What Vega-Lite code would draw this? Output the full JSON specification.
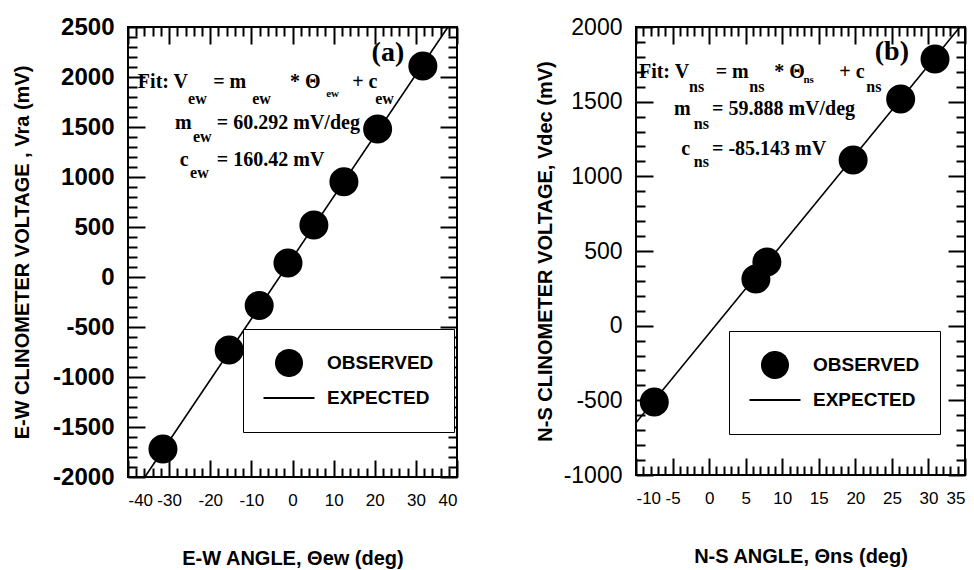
{
  "$schema": "https://vega.github.io/schema/vega-lite/v6.json",
  "padding": {"left": 11, "top": 14, "right": 0, "bottom": 0},
  "background": "white",
  "spacing": 75,
  "resolve": {"scale": {"shape": "independent"}, "legend": {"shape": "independent"}},
  "hconcat": [
    {
      "width": 329,
      "height": 450,
      "layer": [
        {
          "data": {"values": [
            {"theta": -31.5, "v": -1720, "series": "OBSERVED"},
            {"theta": -15.4, "v": -730, "series": "OBSERVED"},
            {"theta": -8.1, "v": -285, "series": "OBSERVED"},
            {"theta": -1.1, "v": 140, "series": "OBSERVED"},
            {"theta": 5.2, "v": 520, "series": "OBSERVED"},
            {"theta": 12.5, "v": 953, "series": "OBSERVED"},
            {"theta": 20.7, "v": 1480, "series": "OBSERVED"},
            {"theta": 31.7, "v": 2110, "series": "OBSERVED"}
          ]},
          "mark": {"type": "point", "filled": true, "color": "black", "stroke": "black", "size": 2410, "opacity": 1},
          "encoding": {
            "x": {"field": "theta", "type": "quantitative", "scale": {"domain": [-40, 40], "nice": false, "zero": false},
              "axis": {"orient": "bottom", "values": [-40, -30, -20, -10, 0, 10, 20, 30, 40], "ticks": false, "labelOverlap": false, "labelExpr": "'' + datum.value", "labelFontSize": 17, "labelPadding": 15, "title": "E-W ANGLE, Θew (deg)", "titleFontSize": 20, "titleFontWeight": "bold", "titlePadding": 40}},
            "y": {"field": "v", "type": "quantitative", "scale": {"domain": [-2000, 2500], "nice": false, "zero": false},
              "axis": {"orient": "left", "values": [-2000, -1500, -1000, -500, 0, 500, 1000, 1500, 2000, 2500], "ticks": false, "labelOverlap": false, "labelExpr": "'' + datum.value", "labelFontSize": 24, "labelFontWeight": "bold", "labelPadding": 14, "title": "E-W CLINOMETER VOLTAGE , Vra (mV)", "titleFontSize": 20, "titleFontWeight": "bold", "titlePadding": 20}},
            "shape": {"field": "series", "type": "nominal",
              "scale": {"domain": ["OBSERVED", "EXPECTED"], "range": ["M-0.55,0A0.55,0.55,0,1,1,0.55,0A0.55,0.55,0,1,1,-0.55,0Z", "M-1,-0.035L1,-0.035L1,0.035L-1,0.035Z"]},
              "legend": {"orient": "none", "legendX": 115, "legendY": 302, "direction": "vertical", "title": null, "padding": 20, "strokeColor": "black", "fillColor": "white", "labelFont": "Liberation Sans", "labelFontSize": 19, "labelFontWeight": "bold", "labelColor": "black", "labelOffset": 12, "rowPadding": 7, "clipHeight": 28, "symbolSize": 2601, "symbolStrokeColor": "black", "symbolStrokeWidth": 1, "symbolFillColor": "black"}}
          }
        },
        {
          "data": {"values": [{"theta": -35.9, "v": -2000}, {"theta": 37.8, "v": 2500}]},
          "mark": {"type": "line", "color": "black", "strokeWidth": 1.6},
          "encoding": {
            "x": {"field": "theta", "type": "quantitative", "scale": {"domain": [-40, 40], "nice": false, "zero": false},
              "axis": {"orient": "bottom", "values": [-40, -30, -20, -10, 0, 10, 20, 30, 40], "labels": false, "tickSize": -17, "title": null}},
            "y": {"field": "v", "type": "quantitative", "scale": {"domain": [-2000, 2500], "nice": false, "zero": false},
              "axis": {"orient": "left", "values": [-2000, -1500, -1000, -500, 0, 500, 1000, 1500, 2000, 2500], "labels": false, "tickSize": -17, "title": null}}
          }
        },
        {
          "data": {"values": [
            {"x": -37.6, "y": 1948, "t": "Fit: V"},
            {"x": -19.3, "y": 1948, "t": "= m"},
            {"x": -0.6, "y": 1948, "t": "* Θ"},
            {"x": 14.5, "y": 1948, "t": "+ c"},
            {"x": -28.6, "y": 1536, "t": "m"},
            {"x": -18.4, "y": 1536, "t": "= 60.292 mV/deg"},
            {"x": -27.4, "y": 1174, "t": "c"},
            {"x": -18.4, "y": 1174, "t": "= 160.42 mV"}
          ]},
          "mark": {"type": "text", "font": "Liberation Serif", "fontWeight": "bold", "fontSize": 20, "align": "left", "baseline": "middle", "color": "black"},
          "encoding": {
            "x": {"field": "x", "type": "quantitative", "scale": {"domain": [-40, 40], "nice": false, "zero": false},
              "axis": {"orient": "top", "values": [-40, -30, -20, -10, 0, 10, 20, 30, 40], "labels": false, "tickSize": -17, "title": null}},
            "y": {"field": "y", "type": "quantitative", "scale": {"domain": [-2000, 2500], "nice": false, "zero": false},
              "axis": {"orient": "right", "values": [-2000, -1500, -1000, -500, 0, 500, 1000, 1500, 2000, 2500], "labels": false, "tickSize": -17, "title": null}},
            "text": {"field": "t", "type": "nominal"}
          }
        },
        {
          "data": {"values": [
            {"x": -25.4, "y": 1777, "t": "ew"},
            {"x": -9.8, "y": 1777, "t": "ew"},
            {"x": 20.1, "y": 1777, "t": "ew"},
            {"x": -24.2, "y": 1405, "t": "ew"},
            {"x": -24.9, "y": 1043, "t": "ew"}
          ]},
          "mark": {"type": "text", "font": "Liberation Serif", "fontWeight": "bold", "fontSize": 16, "align": "left", "baseline": "middle", "color": "black"},
          "encoding": {
            "x": {"field": "x", "type": "quantitative", "scale": {"domain": [-40, 40], "nice": false, "zero": false},
              "axis": {"orient": "bottom", "values": [-38, -36, -34, -32, -28, -26, -24, -22, -18, -16, -14, -12, -8, -6, -4, -2, 2, 4, 6, 8, 12, 14, 16, 18, 22, 24, 26, 28, 32, 34, 36, 38], "labels": false, "tickSize": -9, "title": null}},
            "y": {"field": "y", "type": "quantitative", "scale": {"domain": [-2000, 2500], "nice": false, "zero": false},
              "axis": {"orient": "left", "values": [-1900, -1800, -1700, -1600, -1400, -1300, -1200, -1100, -900, -800, -700, -600, -400, -300, -200, -100, 100, 200, 300, 400, 600, 700, 800, 900, 1100, 1200, 1300, 1400, 1600, 1700, 1800, 1900, 2100, 2200, 2300, 2400], "labels": false, "tickSize": -9, "title": null}},
            "text": {"field": "t", "type": "nominal"}
          }
        },
        {
          "data": {"values": [{"x": 8.2, "y": 1827, "t": "ew"}]},
          "mark": {"type": "text", "font": "Liberation Serif", "fontWeight": "bold", "fontSize": 11, "align": "left", "baseline": "middle", "color": "black"},
          "encoding": {
            "x": {"field": "x", "type": "quantitative", "scale": {"domain": [-40, 40], "nice": false, "zero": false},
              "axis": {"orient": "top", "values": [-38, -36, -34, -32, -28, -26, -24, -22, -18, -16, -14, -12, -8, -6, -4, -2, 2, 4, 6, 8, 12, 14, 16, 18, 22, 24, 26, 28, 32, 34, 36, 38], "labels": false, "tickSize": -9, "title": null}},
            "y": {"field": "y", "type": "quantitative", "scale": {"domain": [-2000, 2500], "nice": false, "zero": false},
              "axis": {"orient": "right", "values": [-1900, -1800, -1700, -1600, -1400, -1300, -1200, -1100, -900, -800, -700, -600, -400, -300, -200, -100, 100, 200, 300, 400, 600, 700, 800, 900, 1100, 1200, 1300, 1400, 1600, 1700, 1800, 1900, 2100, 2200, 2300, 2400], "labels": false, "tickSize": -9, "title": null}},
            "text": {"field": "t", "type": "nominal"}
          }
        },
        {
          "data": {"values": [{"x": 23.2, "y": 2239, "t": "(a)"}]},
          "mark": {"type": "text", "font": "Liberation Serif", "fontWeight": "bold", "fontSize": 28, "align": "center", "baseline": "middle", "color": "black"},
          "encoding": {
            "x": {"field": "x", "type": "quantitative", "scale": {"domain": [-40, 40], "nice": false, "zero": false}, "axis": null},
            "y": {"field": "y", "type": "quantitative", "scale": {"domain": [-2000, 2500], "nice": false, "zero": false}, "axis": null},
            "text": {"field": "t", "type": "nominal"}
          }
        }
      ]
    },
    {
      "width": 329,
      "height": 448,
      "layer": [
        {
          "data": {"values": [
            {"theta": -7.5, "v": -511, "series": "OBSERVED"},
            {"theta": 6.4, "v": 312, "series": "OBSERVED"},
            {"theta": 7.9, "v": 426, "series": "OBSERVED"},
            {"theta": 19.7, "v": 1109, "series": "OBSERVED"},
            {"theta": 26.2, "v": 1518, "series": "OBSERVED"},
            {"theta": 30.9, "v": 1786, "series": "OBSERVED"}
          ]},
          "mark": {"type": "point", "filled": true, "color": "black", "stroke": "black", "size": 2410, "opacity": 1},
          "encoding": {
            "x": {"field": "theta", "type": "quantitative", "scale": {"domain": [-10, 35], "nice": false, "zero": false},
              "axis": {"orient": "bottom", "values": [-10, -5, 0, 5, 10, 15, 20, 25, 30, 35], "ticks": false, "labelOverlap": false, "labelExpr": "'' + datum.value", "labelFontSize": 17, "labelPadding": 15, "title": "N-S ANGLE, Θns (deg)", "titleFontSize": 20, "titleFontWeight": "bold", "titlePadding": 40}},
            "y": {"field": "v", "type": "quantitative", "scale": {"domain": [-1000, 2000], "nice": false, "zero": false},
              "axis": {"orient": "left", "values": [-1000, -500, 0, 500, 1000, 1500, 2000], "ticks": false, "labelOverlap": false, "labelExpr": "'' + datum.value", "labelFontSize": 23, "labelPadding": 14, "title": "N-S CLINOMETER VOLTAGE, Vdec (mV)", "titleFontSize": 20, "titleFontWeight": "bold", "titlePadding": 8}},
            "shape": {"field": "series", "type": "nominal",
              "scale": {"domain": ["OBSERVED", "EXPECTED"], "range": ["M-0.55,0A0.55,0.55,0,1,1,0.55,0A0.55,0.55,0,1,1,-0.55,0Z", "M-1,-0.035L1,-0.035L1,0.035L-1,0.035Z"]},
              "legend": {"orient": "none", "legendX": 93, "legendY": 304, "direction": "vertical", "title": null, "padding": 20, "strokeColor": "black", "fillColor": "white", "labelFont": "Liberation Sans", "labelFontSize": 19, "labelFontWeight": "bold", "labelColor": "black", "labelOffset": 12, "rowPadding": 7, "clipHeight": 28, "symbolSize": 2601, "symbolStrokeColor": "black", "symbolStrokeWidth": 1, "symbolFillColor": "black"}}
          }
        },
        {
          "data": {"values": [{"theta": -10, "v": -650}, {"theta": 34.3, "v": 2000}]},
          "mark": {"type": "line", "color": "black", "strokeWidth": 1.6},
          "encoding": {
            "x": {"field": "theta", "type": "quantitative", "scale": {"domain": [-10, 35], "nice": false, "zero": false},
              "axis": {"orient": "bottom", "values": [-10, -5, 0, 5, 10, 15, 20, 25, 30, 35], "labels": false, "tickSize": -17, "title": null}},
            "y": {"field": "v", "type": "quantitative", "scale": {"domain": [-1000, 2000], "nice": false, "zero": false},
              "axis": {"orient": "left", "values": [-1000, -500, 0, 500, 1000, 1500, 2000], "labels": false, "tickSize": -17, "title": null}}
          }
        },
        {
          "data": {"values": [
            {"x": -9.6, "y": 1699, "t": "Fit: V"},
            {"x": 0.9, "y": 1699, "t": "= m"},
            {"x": 8.9, "y": 1699, "t": "* Θ"},
            {"x": 17.8, "y": 1699, "t": "+ c"},
            {"x": -4.8, "y": 1451, "t": "m"},
            {"x": 0.4, "y": 1451, "t": "= 59.888 mV/deg"},
            {"x": -3.8, "y": 1183, "t": "c"},
            {"x": 0.4, "y": 1183, "t": "= -85.143 mV"}
          ]},
          "mark": {"type": "text", "font": "Liberation Serif", "fontWeight": "bold", "fontSize": 20, "align": "left", "baseline": "middle", "color": "black"},
          "encoding": {
            "x": {"field": "x", "type": "quantitative", "scale": {"domain": [-10, 35], "nice": false, "zero": false},
              "axis": {"orient": "top", "values": [-10, -5, 0, 5, 10, 15, 20, 25, 30, 35], "labels": false, "tickSize": -17, "title": null}},
            "y": {"field": "y", "type": "quantitative", "scale": {"domain": [-1000, 2000], "nice": false, "zero": false},
              "axis": {"orient": "right", "values": [-1000, -500, 0, 500, 1000, 1500, 2000], "labels": false, "tickSize": -17, "title": null}},
            "text": {"field": "t", "type": "nominal"}
          }
        },
        {
          "data": {"values": [
            {"x": -2.75, "y": 1598, "t": "ns"},
            {"x": 5.5, "y": 1598, "t": "ns"},
            {"x": 21.5, "y": 1598, "t": "ns"},
            {"x": -2.1, "y": 1350, "t": "ns"},
            {"x": -2.1, "y": 1096, "t": "ns"}
          ]},
          "mark": {"type": "text", "font": "Liberation Serif", "fontWeight": "bold", "fontSize": 16, "align": "left", "baseline": "middle", "color": "black"},
          "encoding": {
            "x": {"field": "x", "type": "quantitative", "scale": {"domain": [-10, 35], "nice": false, "zero": false},
              "axis": {"orient": "bottom", "values": [-9, -8, -7, -6, -4, -3, -2, -1, 1, 2, 3, 4, 6, 7, 8, 9, 11, 12, 13, 14, 16, 17, 18, 19, 21, 22, 23, 24, 26, 27, 28, 29, 31, 32, 33, 34], "labels": false, "tickSize": -9, "title": null}},
            "y": {"field": "y", "type": "quantitative", "scale": {"domain": [-1000, 2000], "nice": false, "zero": false},
              "axis": {"orient": "left", "values": [-900, -800, -700, -600, -400, -300, -200, -100, 100, 200, 300, 400, 600, 700, 800, 900, 1100, 1200, 1300, 1400, 1600, 1700, 1800, 1900], "labels": false, "tickSize": -9, "title": null}},
            "text": {"field": "t", "type": "nominal"}
          }
        },
        {
          "data": {"values": [{"x": 12.9, "y": 1645, "t": "ns"}]},
          "mark": {"type": "text", "font": "Liberation Serif", "fontWeight": "bold", "fontSize": 11, "align": "left", "baseline": "middle", "color": "black"},
          "encoding": {
            "x": {"field": "x", "type": "quantitative", "scale": {"domain": [-10, 35], "nice": false, "zero": false},
              "axis": {"orient": "top", "values": [-9, -8, -7, -6, -4, -3, -2, -1, 1, 2, 3, 4, 6, 7, 8, 9, 11, 12, 13, 14, 16, 17, 18, 19, 21, 22, 23, 24, 26, 27, 28, 29, 31, 32, 33, 34], "labels": false, "tickSize": -9, "title": null}},
            "y": {"field": "y", "type": "quantitative", "scale": {"domain": [-1000, 2000], "nice": false, "zero": false},
              "axis": {"orient": "right", "values": [-900, -800, -700, -600, -400, -300, -200, -100, 100, 200, 300, 400, 600, 700, 800, 900, 1100, 1200, 1300, 1400, 1600, 1700, 1800, 1900], "labels": false, "tickSize": -9, "title": null}},
            "text": {"field": "t", "type": "nominal"}
          }
        },
        {
          "data": {"values": [{"x": 25.0, "y": 1833, "t": "(b)"}]},
          "mark": {"type": "text", "font": "Liberation Serif", "fontWeight": "bold", "fontSize": 28, "align": "center", "baseline": "middle", "color": "black"},
          "encoding": {
            "x": {"field": "x", "type": "quantitative", "scale": {"domain": [-10, 35], "nice": false, "zero": false}, "axis": null},
            "y": {"field": "y", "type": "quantitative", "scale": {"domain": [-1000, 2000], "nice": false, "zero": false}, "axis": null},
            "text": {"field": "t", "type": "nominal"}
          }
        }
      ]
    }
  ],
  "config": {
    "view": {"stroke": "black", "strokeWidth": 2},
    "axis": {"domain": false, "grid": false, "tickColor": "black", "tickWidth": 2, "labelColor": "black", "titleColor": "black", "labelFont": "Liberation Sans", "titleFont": "Liberation Sans"}
  }
}
